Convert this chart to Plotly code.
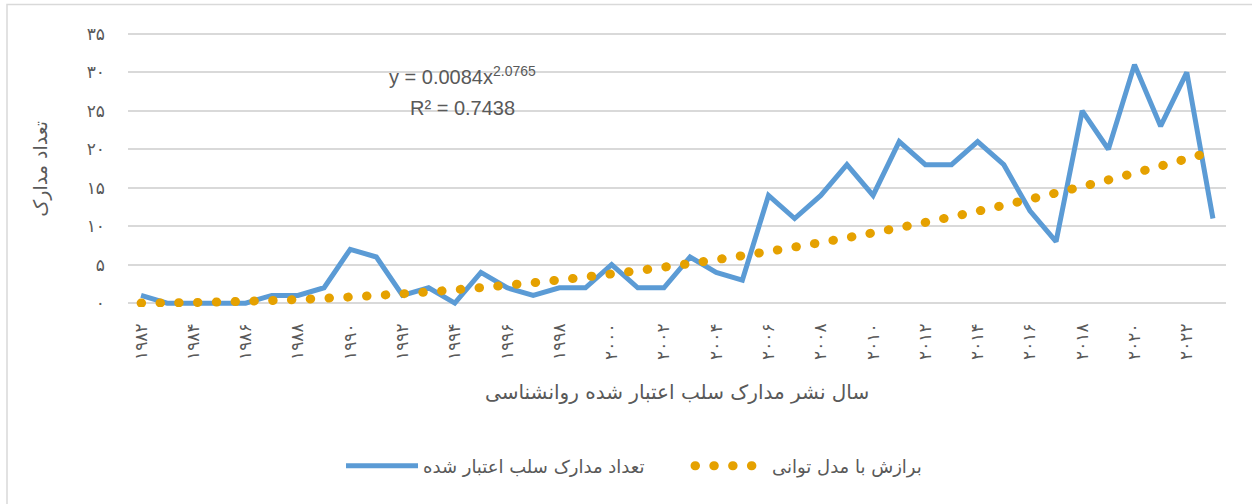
import plotly.graph_objects as go

years = list(range(1982, 2024))
counts = [1, 0, 0, 0, 0, 1, 1, 2, 7, 6,
          1, 2, 0, 4, 2, 1, 2, 2, 5, 2,
          2, 6, 4, 3, 14, 11, 14, 18, 14, 21,
          18, 18, 21, 18, 12, 8, 25, 20, 31, 23,
          30, 11]
# power trendline y = 0.0084 x^2.0765 evaluated at x = 1..42 (as shown on chart)
trend = [0.01, 0.04, 0.08, 0.15, 0.24, 0.35, 0.48, 0.63, 0.80, 1.00,
         1.22, 1.46, 1.73, 2.01, 2.33, 2.66, 3.02, 3.40, 3.80, 4.23,
         4.68, 5.15, 5.65, 6.17, 6.72, 7.29, 7.88, 8.50, 9.14, 9.81,
         10.50, 11.21, 11.95, 12.72, 13.51, 14.32, 15.16, 16.02, 16.91, 17.82,
         18.76, 19.72]

x_tickvals = [1982, 1984, 1986, 1988, 1990, 1992, 1994, 1996, 1998, 2000,
              2002, 2004, 2006, 2008, 2010, 2012, 2014, 2016, 2018, 2020, 2022]
x_ticktext = ['۱۹۸۲', '۱۹۸۴', '۱۹۸۶', '۱۹۸۸', '۱۹۹۰', '۱۹۹۲', '۱۹۹۴', '۱۹۹۶', '۱۹۹۸', '۲۰۰۰',
              '۲۰۰۲', '۲۰۰۴', '۲۰۰۶', '۲۰۰۸', '۲۰۱۰', '۲۰۱۲', '۲۰۱۴', '۲۰۱۶', '۲۰۱۸', '۲۰۲۰', '۲۰۲۲']
y_tickvals = [0, 5, 10, 15, 20, 25, 30, 35]
y_ticktext = ['۰', '۵', '۱۰', '۱۵', '۲۰', '۲۵', '۳۰', '۳۵']

series_name = 'تعداد مدارک سلب اعتبار شده'
trend_name = 'برازش با مدل توانی'
x_title = 'سال نشر مدارک سلب اعتبار شده روانشناسی'
y_title = 'تعداد مدارک'
eq_text = 'y = 0.0084x<sup>2.0765</sup>'
r2_text = 'R² = 0.7438'

GRAY = '#595959'
FA = 'DejaVu Sans'

fig = go.Figure()
fig.add_trace(go.Scatter(
    x=years, y=counts, mode='lines', name=series_name,
    line=dict(color='#5B9BD5', width=5), cliponaxis=False, legendwidth=262))
fig.add_trace(go.Scatter(
    x=years, y=trend, mode='lines', name=trend_name,
    line=dict(color='#E5A100', width=9, dash='0.5px,18.3px', shape='spline'),
    cliponaxis=False, legendwidth=170))

fig.update_layout(
    width=1252, height=504,
    margin=dict(l=128, r=26, t=30, b=197),
    paper_bgcolor='white', plot_bgcolor='white',
    font=dict(family=FA, color=GRAY),
    xaxis=dict(range=[1981.5, 2023.5], tickvals=x_tickvals, ticktext=x_ticktext,
               tickangle=-90, showgrid=False, zeroline=False, showline=False,
               ticks='', ticklabelstandoff=12,
               tickfont=dict(family=FA, size=17, color=GRAY)),
    yaxis=dict(range=[-0.5, 35.5], tickvals=y_tickvals, ticktext=y_ticktext,
               showgrid=True, gridcolor='#D9D9D9', gridwidth=1.5,
               zeroline=False, showline=False, ticks='', ticklabelstandoff=22,
               tickfont=dict(family=FA, size=17, color=GRAY)),
    legend=dict(orientation='h', x=0.194, xanchor='left', y=-0.574, yanchor='middle',
                font=dict(family=FA, size=18, color=GRAY), itemwidth=72,
                bgcolor='rgba(0,0,0,0)'),
    showlegend=True,
)

fig.add_annotation(x=0.5, y=-0.308, xref='paper', yref='paper', text=x_title,
                   showarrow=False, yanchor='middle',
                   font=dict(family=FA, size=20, color=GRAY))
fig.add_annotation(x=-0.08, y=0.5, xref='paper', yref='paper', text=y_title,
                   showarrow=False, textangle=-90, xanchor='center', yanchor='middle',
                   font=dict(family=FA, size=19, color=GRAY))
fig.add_annotation(x=0.305, y=0.836, xref='paper', yref='paper', text=eq_text,
                   showarrow=False, xanchor='center', yanchor='middle',
                   font=dict(family='Liberation Sans', size=20, color=GRAY))
fig.add_annotation(x=0.305, y=0.72, xref='paper', yref='paper', text=r2_text,
                   showarrow=False, xanchor='center', yanchor='middle',
                   font=dict(family='Liberation Sans', size=20, color=GRAY))
fig.add_shape(type='rect', xref='paper', yref='paper',
              x0=-0.1102, x1=1.04, y0=-0.7217, y1=1.0925,
              line=dict(color='#D9D9D9', width=1.5), layer='below')

post = """
document.body.style.margin = '0px';
document.body.style.overflow = 'hidden';
var gd = document.getElementById('{plot_id}');
gd.querySelectorAll('.scatterlayer .trace:nth-of-type(2) path.js-line, .legend .traces:nth-of-type(2) path.js-line').forEach(function(p){ p.style.strokeLinecap = 'round'; });
"""

fig.write_html('out.html', post_script=post, config={'displayModeBar': False})
